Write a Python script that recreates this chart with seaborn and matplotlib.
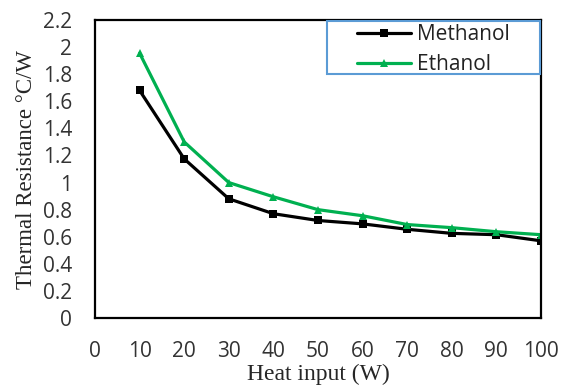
import matplotlib
matplotlib.use("Agg")
import matplotlib.pyplot as plt
from matplotlib.patches import Rectangle
import seaborn as sns
import pandas as pd

heat_input = [10, 20, 30, 40, 50, 60, 70, 80, 90, 100]
methanol = [1.68, 1.175, 0.88, 0.77, 0.72, 0.695, 0.655, 0.625, 0.615, 0.57]
ethanol = [1.955, 1.30, 1.00, 0.895, 0.80, 0.755, 0.69, 0.667, 0.637, 0.615]
series_names = ["Methanol", "Ethanol"]
x_ticks = [0, 10, 20, 30, 40, 50, 60, 70, 80, 90, 100]
y_ticks = [0, 0.2, 0.4, 0.6, 0.8, 1, 1.2, 1.4, 1.6, 1.8, 2, 2.2]

df = pd.DataFrame({
    "Heat input": heat_input * 2,
    "R": methanol + ethanol,
    "Fluid": [series_names[0]] * len(heat_input) + [series_names[1]] * len(heat_input),
})

sns.set_style("white")
plt.rcParams["font.family"] = ["Open Sans", "DejaVu Sans"]

fig = plt.figure(figsize=(5.71, 3.85), dpi=100)
ax = fig.add_axes([0.1664, 0.174, 0.781, 0.774])

sns.lineplot(data=df, x="Heat input", y="R", hue="Fluid", style="Fluid",
             palette={"Methanol": "#000000", "Ethanol": "#00B050"},
             markers={"Methanol": "s", "Ethanol": "^"},
             dashes=False, linewidth=2.3, markersize=5.5, markeredgewidth=0,
             ax=ax)

ax.set_xlim(0, 100)
ax.set_ylim(0, 2.2)
ax.set_xticks(x_ticks)
ax.set_yticks(y_ticks)
ax.set_yticklabels([f"{v:g}" for v in y_ticks])
ax.tick_params(axis="both", direction="out", length=6.5, width=1, color="#8c8c8c",
               labelsize=15, labelcolor="#333333")
ax.tick_params(axis="x", pad=10)
ax.tick_params(axis="y", pad=10)
for s in ax.spines.values():
    s.set_color("black")
    s.set_linewidth(1.6)

ax.set_xlabel("Heat input (W)", family="Liberation Serif", fontsize=17, labelpad=1)
ax.set_ylabel("Thermal Resistance °C/W", family="Liberation Serif", fontsize=16.5, labelpad=4)

leg = ax.legend(loc="upper left", bbox_to_anchor=(0.587, 0.985), fontsize=15,
                frameon=False, handlelength=2.6, handletextpad=0.3,
                borderpad=0, labelspacing=0.4, borderaxespad=0)
leg.set_title(None)
for t in leg.get_texts():
    t.set_color("#222222")

frame = Rectangle((0.520, 0.819), 0.478, 0.178, transform=ax.transAxes,
                  fill=False, edgecolor="#5B9BD5", linewidth=1.5, clip_on=False, zorder=5)
ax.add_patch(frame)

fig.savefig("out.png", dpi=100)
